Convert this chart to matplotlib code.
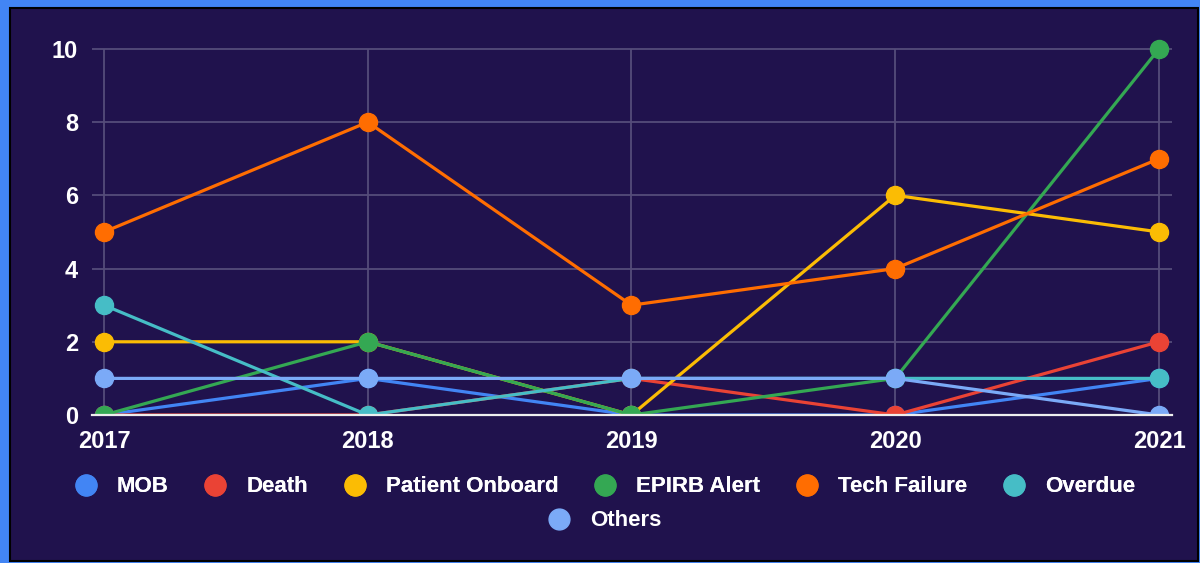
import matplotlib
matplotlib.use('Agg')
import matplotlib.pyplot as plt
from matplotlib.lines import Line2D
from matplotlib.patches import Rectangle

years = [2017, 2018, 2019, 2020, 2021]

series_names = ['MOB', 'Death', 'Patient Onboard', 'EPIRB Alert',
                'Tech Failure', 'Overdue', 'Others']
mob = [0, 1, 0, 0, 1]
death = [0, 0, 1, 0, 2]
patient_onboard = [2, 2, 0, 6, 5]
epirb_alert = [0, 2, 0, 1, 10]
tech_failure = [5, 8, 3, 4, 7]
overdue = [3, 0, 1, 1, 1]
others = [1, 1, 1, 1, 0]
series_values = [mob, death, patient_onboard, epirb_alert,
                 tech_failure, overdue, others]
colors = ['#4285f4', '#ea4335', '#fbbc04', '#34a853',
          '#ff6d01', '#46bdc6', '#7baaf7']

bg = '#20124d'
grid_col = '#554c7a'

plt.rcParams['font.family'] = ['Liberation Sans', 'DejaVu Sans']
plt.rcParams['font.weight'] = 'bold'

fig = plt.figure(figsize=(12, 5.63), dpi=100, facecolor='#4285f4')
# inner dark panel with thin black edge
fig.patches.append(Rectangle((10 / 1200, 2 / 563), 1188 / 1200, 553 / 563,
                             transform=fig.transFigure, facecolor=bg,
                             edgecolor='black', linewidth=1.5, zorder=-1))

ax = fig.add_axes([92 / 1200, 1 - 415 / 563, 0.9, (415 - 35) / 563])
ax.set_zorder(2)
ax.set_facecolor('none')

for name, vals, c in zip(series_names, series_values, colors):
    ax.plot(years, vals, color=c, linewidth=2.3, marker='o', markersize=13,
            label=name, zorder=2)

ax.set_xlim(2017 - 12 / 263.75, 2021 + 13 / 263.75)
ax.set_ylim(0, 10.38)
ax.set_yticks([0, 2, 4, 6, 8, 10])
ax.set_xticks(years)
ax.yaxis.grid(True, color=grid_col, linewidth=1.3, zorder=1)
ax.vlines(years, 0, 10, color=grid_col, linewidth=1.3, zorder=1)
ax.set_axisbelow(True)

for s in ['top', 'right', 'left']:
    ax.spines[s].set_visible(False)
ax.spines['bottom'].set_color('#eeeeee')
ax.spines['bottom'].set_linewidth(1.6)
ax.spines['bottom'].set_zorder(3)

ax.tick_params(axis='both', length=0, labelsize=17, labelcolor='white')
ax.tick_params(axis='y', pad=10)
ax.tick_params(axis='x', pad=11)
for lbl in ax.get_xticklabels() + ax.get_yticklabels():
    lbl.set_fontweight('bold')

handles = [Line2D([], [], linestyle='none', marker='o', markersize=15,
                  markerfacecolor=c, markeredgecolor=c) for c in colors]

leg1 = fig.legend(handles[:6], series_names[:6], loc='center',
                  bbox_to_anchor=(0.504, 1 - 487 / 563), ncol=6, frameon=False,
                  handlelength=1.0, handletextpad=0.9, columnspacing=1.6,
                  prop={'size': 16, 'weight': 'bold'}, labelcolor='white')
leg2 = fig.legend(handles[6:], series_names[6:], loc='center',
                  bbox_to_anchor=(0.504, 1 - 521 / 563), ncol=1, frameon=False,
                  handlelength=1.0, handletextpad=0.9,
                  prop={'size': 16, 'weight': 'bold'}, labelcolor='white')
fig.add_artist(leg1)

fig.savefig('out.png', dpi=100, facecolor=fig.get_facecolor())
